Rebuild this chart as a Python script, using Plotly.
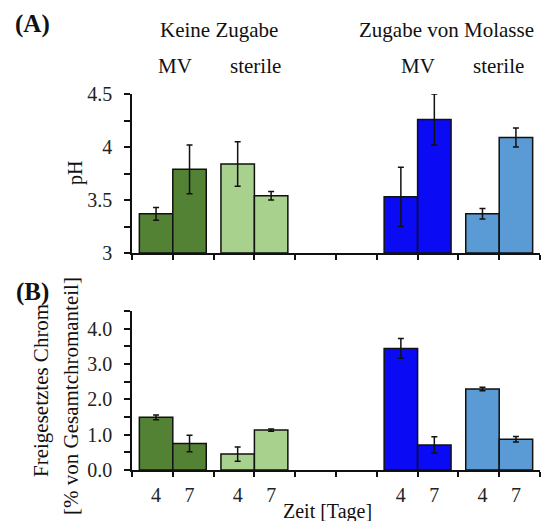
import plotly.graph_objects as go

# ---------------- data ----------------
treatments = ["Keine Zugabe", "Zugabe von Molasse"]
variants = ["MV", "sterile", "MV", "sterile"]
days = ["4", "7"]
ph_day4 = [3.37, 3.84, 3.53, 3.37]
ph_day7 = [3.79, 3.54, 4.26, 4.09]
ph_err4 = [0.06, 0.21, 0.28, 0.05]
ph_err7 = [0.23, 0.04, 0.24, 0.09]
cr_day4 = [1.49, 0.45, 3.44, 2.29]
cr_day7 = [0.75, 1.13, 0.71, 0.87]
cr_err4 = [0.07, 0.20, 0.28, 0.05]
cr_err7 = [0.23, 0.03, 0.23, 0.08]
colors = ["#548235", "#A9D18E", "#0A0AF5", "#5B9BD5"]
ph_base = 3

# ---------------- layout helpers ----------------
W, H = 542, 521
FONT = "Liberation Serif"
slot_centers = [1, 3, 7, 9]
half = 0.41
bw = 0.82


def px(x):
    return x / W


def py(y):
    return 1 - y / H


fig = go.Figure()

for i in range(4):
    xs = [slot_centers[i] - half, slot_centers[i] + half]
    fig.add_trace(go.Bar(
        x=xs, y=[ph_day4[i] - ph_base, ph_day7[i] - ph_base], base=ph_base, width=bw,
        marker=dict(color=colors[i], line=dict(color="#111111", width=1.5)),
        error_y=dict(type="data", array=[ph_err4[i], ph_err7[i]], color="#111111",
                     thickness=1.5, width=3),
        xaxis="x", yaxis="y", showlegend=False,
    ))
    fig.add_trace(go.Bar(
        x=xs, y=[cr_day4[i], cr_day7[i]], width=bw,
        marker=dict(color=colors[i], line=dict(color="#111111", width=1.5)),
        error_y=dict(type="data", array=[cr_err4[i], cr_err7[i]], color="#111111",
                     thickness=1.5, width=3),
        xaxis="x2", yaxis="y2", showlegend=False,
    ))

xdom = [px(132), px(540)]
label_centers = [c + s * half for c in slot_centers for s in (-1, 1)]
label_text = [d for _ in slot_centers for d in days]

axis_common = dict(showline=True, linecolor="#111111", linewidth=1.5,
                   showgrid=False, zeroline=False, automargin=False,
                   tickfont=dict(family=FONT, size=20, color="#222222"))

fig.update_layout(
    width=W, height=H, autosize=False,
    margin=dict(l=0, r=0, t=0, b=0, pad=0, autoexpand=False),
    paper_bgcolor="white", plot_bgcolor="white",
    barmode="overlay", showlegend=False,
    font=dict(family=FONT, color="#222222"),
    xaxis=dict(domain=xdom, range=[0, 10], anchor="y",
               tickvals=list(range(11)), ticks="outside", ticklen=5,
               tickwidth=1.5, tickcolor="#111111", showticklabels=False,
               **axis_common),
    yaxis=dict(domain=[py(253), py(94)], range=[3, 4.5], anchor="x",
               tickvals=[3, 3.5, 4, 4.5], ticktext=["3", "3.5", "4", "4.5"],
               ticks="outside", ticklen=6, tickwidth=1.5, tickcolor="#111111",
               ticklabelstandoff=8,
               minor=dict(dtick=0.25, ticks="outside", ticklen=6,
                          tickwidth=1.5, tickcolor="#111111", showgrid=False),
               **axis_common),
    xaxis2=dict(domain=xdom, range=[0, 10], anchor="y2",
                tickvals=label_centers, ticktext=label_text, ticks="",
                ticklabelstandoff=6,
                minor=dict(tickvals=list(range(11)), ticks="outside", ticklen=5,
                           tickwidth=1.5, tickcolor="#111111", showgrid=False),
                **axis_common),
    yaxis2=dict(domain=[py(470), py(311)], range=[0, 4.5], anchor="x2",
                tickvals=[0, 1, 2, 3, 4], tickformat=".1f",
                ticks="outside", ticklen=6, tickwidth=1.5, tickcolor="#111111",
                ticklabelstandoff=8,
                minor=dict(dtick=0.5, ticks="outside", ticklen=6,
                           tickwidth=1.5, tickcolor="#111111", showgrid=False),
                **axis_common),
)

ann = []


def add_text(text, x, y, size=20, bold=False, angle=0):
    ann.append(dict(text=f"<b>{text}</b>" if bold else text,
                    x=px(x), y=py(y), xref="paper", yref="paper",
                    xanchor="center", yanchor="middle", showarrow=False,
                    textangle=angle,
                    font=dict(family=FONT, size=size, color="#111111")))


add_text("(A)", 32, 24, size=25, bold=True)
add_text("(B)", 32, 292, size=25, bold=True)
add_text(treatments[0], 219, 30, size=21)
add_text(treatments[1], 446, 30, size=21)
header_x = [175, 255, 418, 498]
for v, hx in zip(variants, header_x):
    add_text(v, hx, 66, size=21)
add_text("pH", 75, 173, size=20, angle=-90)
add_text("Freigesetztes Chrom", 41, 391, size=21, angle=-90)
add_text("[% von Gesamtchromanteil]", 71, 396, size=21, angle=-90)
add_text("Zeit [Tage]", 327, 511, size=20)

fig.update_layout(annotations=ann)

fig.write_html("out.html", config={"responsive": False})
